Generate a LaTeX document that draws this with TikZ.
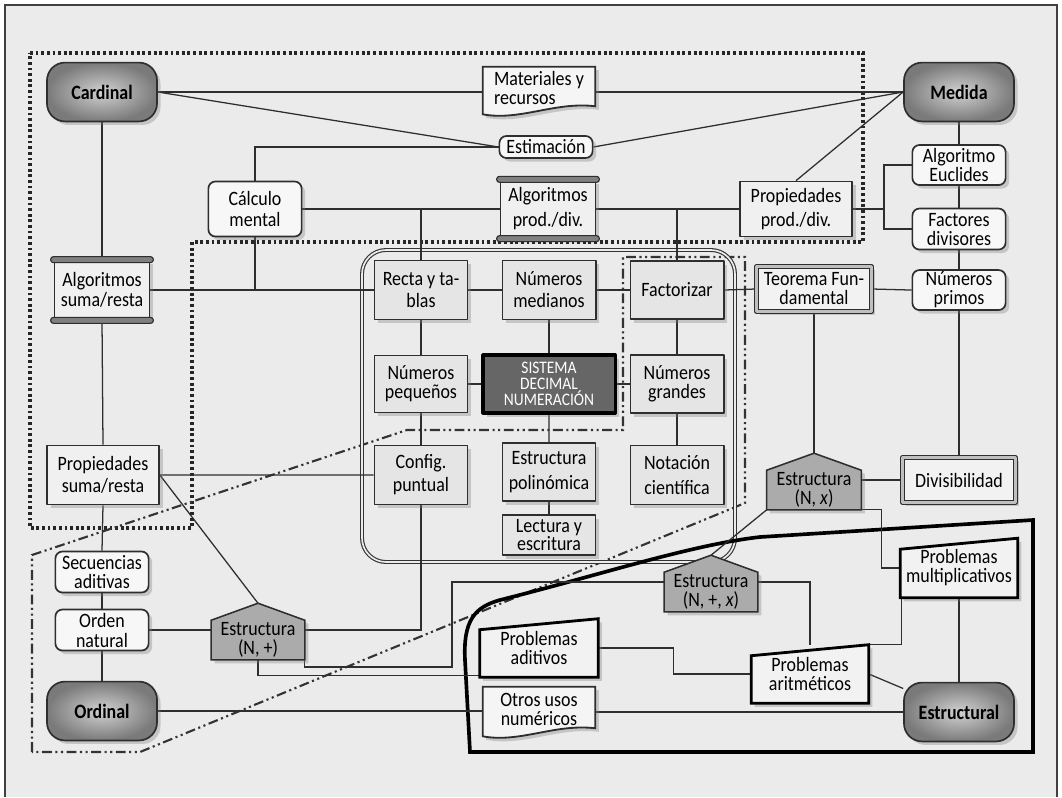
\documentclass[tikz,border=0pt]{standalone}
\usepackage{fontspec}
\setmainfont{Carlito}[FakeStretch=0.88]
\usetikzlibrary{calc,positioning,shadows}
\pgfdeclarelayer{paperlayer}
\pgfdeclarelayer{linklayer}
\pgfdeclarelayer{shapelayer}
\pgfsetlayers{paperlayer,linklayer,shapelayer,main}
\definecolor{paper}{HTML}{EBEBEB}
\definecolor{ink}{HTML}{2E2E2E}
\newcommand{\nodefont}[1]{\fontsize{14.5}{#1}\selectfont\lineskiplimit=-20pt}

\begin{document}
\begin{tikzpicture}[x=0.025cm, y=-0.025cm, line join=round,
  link/.style={draw=ink, line width=0.9pt},
  shadowed/.style={drop shadow={shadow xshift=2.5pt, shadow yshift=-2.5pt, opacity=0.35}}]
% Define styles for boxes, group frames and shapes
\tikzstyle{boxbase} = [inner sep=0pt, align=center, font=\nodefont{15.6}]
\tikzstyle{pill} = [boxbase, draw=ink, line width=1.2pt, rounded corners=0.45cm, inner color=black!18, outer color=black!52, minimum width=2.75cm, minimum height=1.47cm, font=\nodefont{16}\bfseries, shadowed]
\tikzstyle{rbox} = [boxbase, draw=ink, line width=1.2pt, fill=black!3, rounded corners=5pt, minimum width=2.33cm, shadowed]
\tikzstyle{plainbox} = [boxbase, draw=ink, line width=1.2pt, fill=black!6, shadowed]
\tikzstyle{gridbox} = [plainbox, fill=black!10, minimum width=2.33cm, minimum height=1.475cm]
\tikzstyle{dbox} = [boxbase, draw=ink, line width=0.9pt, double=black!25, double distance=1.6pt, fill=black!5, shadowed]
\tikzstyle{scroll} = [plainbox, minimum width=2.375cm]
\tikzstyle{corebox} = [boxbase, draw=black, line width=2.2pt, fill=black!60, text=white, font=\fontsize{12.5}{11.5}\selectfont, minimum width=3.3cm, minimum height=1.45cm, shadowed]
\tikzstyle{housebox} = [boxbase, minimum width=2.35cm, minimum height=0.975cm]
\tikzstyle{manualbox} = [boxbase, minimum width=2.925cm, minimum height=1.45cm]
\tikzstyle{docbox} = [boxbase]
\tikzstyle{housefill} = [draw=ink, line width=1.1pt, fill=black!33, shadowed]
\tikzstyle{docfill} = [draw=ink, line width=1.3pt, fill=black!4, shadowed]
\tikzstyle{manualfill} = [draw=black, line width=2pt, fill=black!5, shadowed]
\tikzstyle{scrollbar} = [draw=ink, line width=0.8pt, fill=black!50, rounded corners=2pt]
\tikzstyle{dotframe} = [draw=black!85, line width=2.2pt, dash pattern=on 2pt off 2pt]
\tikzstyle{dashframe} = [draw=black!80, line width=1.5pt, dash pattern=on 7pt off 2.5pt on 1.5pt off 2.5pt on 1.5pt off 2.5pt]
\tikzstyle{groupframe} = [draw=black!80, line width=0.8pt, double=paper, double distance=1.2pt, rounded corners=0.6cm]
\tikzstyle{boldframe} = [draw=black, line width=2.6pt]

\useasboundingbox (0,0) rectangle (1062,797);

% Paper, frame and groups
\begin{pgfonlayer}{paperlayer}
\fill[white] (0,0) rectangle (1062,797);
\fill[paper] (5,5) rectangle (1057,797);
\draw[black!75, line width=1pt] (5,797) -- (5,5) -- (1057,5) -- (1057,797);
\draw[dotframe] (30,53) -- (863,53) -- (863,242) -- (192,242) -- (192,528) -- (30,528) -- cycle;
\draw[dashframe] (32,752) -- (32,555) -- (407,430) -- (623,430) -- (623,257) -- (745,257) -- (745,503) -- (140,752) -- cycle;
\draw[groupframe] (362,250) rectangle (735,562);
\draw[boldframe] (1033,520) -- (1033,752) -- (470,752) -- (465,660) .. controls (463,620) and (475,607) .. (500,600) .. controls (600,575) and (690,545) .. (760,537) -- cycle;
\end{pgfonlayer}

% Nodes placement
\node[pill] (cardinal) at (102,92) {Cardinal};
\node[pill] (medida) at (959,92) {Medida};
\node[pill] (ordinal) at (102,711) {Ordinal};
\node[pill] (estructural) at (959,712) {Estructural};

\node[docbox, minimum width=2.8cm, minimum height=1.05cm, align=left, font=\nodefont{13.5}] (materiales) at (539,88) {Materiales y\\recursos};
\node[rbox, minimum height=0.55cm] (estimacion) at (546,147) {Estimación};
\node[scroll, minimum height=1.44cm, font=\nodefont{17.8}] (algprod) at (548,209) {Algoritmos\\prod./div.};
\node[rbox, minimum height=1.375cm, font=\nodefont{15}] (calculo) at (255,209) {Cálculo\\mental};
\node[plainbox, minimum width=2.8cm, minimum height=1.375cm, font=\nodefont{17}] (propprod) at (796,209) {Propiedades\\prod./div.};

\node[rbox, below of=medida, node distance=1.825cm, minimum height=1cm, font=\nodefont{13.5}] (euclides) {Algoritmo\\Euclides};
\node[rbox, below of=euclides, node distance=1.6cm, minimum height=1.025cm, font=\nodefont{13.5}] (factores) {Factores\\divisores};
\node[rbox, below of=factores, node distance=1.525cm, minimum height=1cm, font=\nodefont{13.5}] (primos) {Números\\primos};
\node[dbox, minimum width=2.875cm, minimum height=1.125cm, font=\nodefont{13.5}] (teorema) at (814,289) {Teorema Fun-\\damental};
\node[dbox, minimum width=2.825cm, minimum height=1.125cm] (divis) at (959,480) {Divisibilidad};
\node[housebox, font=\nodefont{13.5}] (estrx) at (814,490) {Estructura\\(N, \textit{x})};

\node[scroll, minimum height=1.475cm, font=\nodefont{14.2}] (algsuma) at (102,290) {Algoritmos\\suma/resta};
\node[plainbox, minimum width=2.8cm, minimum height=1.475cm] (propsuma) at (103,475) {Propiedades\\suma/resta};
\node[rbox, minimum height=1.025cm, font=\nodefont{13.5}] (secuencias) at (102,572) {Secuencias\\aditivas};
\node[rbox, below of=secuencias, node distance=1.45cm, minimum height=1.025cm, font=\nodefont{14.2}] (orden) {Orden\\natural};
\node[housebox, minimum width=2.325cm, font=\nodefont{13.5}] (estrmas) at (258,640) {Estructura\\(N, +)};

% Central block
\node[gridbox] (recta) at (421,290) {Recta y ta-\\blas};
\node[gridbox, right of=recta, node distance=3.2cm] (medianos) {Números\\medianos};
\node[gridbox, right of=medianos, node distance=3.2cm, minimum height=1.45cm] (factorizar) {Factorizar};
\node[gridbox, below of=recta, node distance=2.35cm, minimum height=1.425cm, font=\nodefont{13.5}] (pequenos) {Números\\pequeños};
\node[corebox, right of=pequenos, node distance=3.2cm] (sistema) {SISTEMA\\DECIMAL\\NUMERACIÓN};
\node[gridbox, right of=sistema, node distance=3.2cm, minimum height=1.45cm, font=\nodefont{13.5}] (grandes) {Números\\grandes};
\node[gridbox, below of=pequenos, node distance=2.275cm, font=\nodefont{16.4}] (config) {Config.\\puntual};
\node[gridbox, minimum height=1.45cm, font=\nodefont{17.8}] (polinomica) at (549,472) {Estructura\\polinómica};
\node[gridbox, below of=grandes, node distance=2.275cm, font=\nodefont{17.8}] (notacion) {Notación\\científica};
\node[gridbox, below of=polinomica, node distance=1.575cm, minimum height=1cm, font=\nodefont{13.5}] (lectura) {Lectura y\\escritura};

% Problems
\node[housebox, minimum width=2.325cm, font=\nodefont{13.5}] (estrmasx) at (711,592) {Estructura\\(N, +, \textit{x})};
\node[manualbox, minimum width=2.95cm, font=\nodefont{13.5}] (aditivos) at (539,648) {Problemas\\aditivos};
\node[docbox, minimum width=2.8cm, minimum height=1.1cm, font=\nodefont{13.5}] (otros) at (539,709) {Otros usos\\numéricos};
\node[manualbox, minimum height=1.475cm, font=\nodefont{13.5}] (multiplic) at (959,568) {Problemas\\multiplicativos};
\node[manualbox, font=\nodefont{13.5}] (aritmeticos) at (810,674) {Problemas\\aritméticos};

% Shapes behind the texts
\begin{pgfonlayer}{shapelayer}
\foreach \n in {estrmas,estrx,estrmasx} {
  \coordinate (\n-top) at ($(\n.north)+(0,-17)$);
  \filldraw[housefill] (\n.south west) -- (\n.north west) -- (\n-top) -- (\n.north east) -- (\n.south east) -- cycle;
}
\foreach \n in {materiales,otros} {
  \filldraw[docfill] (\n.north west) -- (\n.north east) -- ($(\n.south east)+(0,-3)$) .. controls ($(\n.south east)+(-40,-8)$) and ($(\n.south west)+(37,12)$) .. ($(\n.south west)+(0,5)$) -- cycle;
}
\foreach \n in {aditivos,multiplic,aritmeticos} {
  \filldraw[manualfill] (\n.south west) -- ($(\n.north west)+(0,11)$) -- (\n.north east) -- (\n.south east) -- cycle;
}
\end{pgfonlayer}

% Bars of the scrolls
\foreach \n in {algsuma,algprod} {
  \filldraw[scrollbar] ($(\n.north west)+(-3,-3)$) rectangle ($(\n.north east)+(3,3)$);
  \filldraw[scrollbar] ($(\n.south west)+(-3,-3)$) rectangle ($(\n.south east)+(3,3)$);
}

% Draw edges
\begin{pgfonlayer}{linklayer}
\draw[link] (cardinal.east) -- (cardinal.east -| materiales.west);
\draw[link] (materiales.east |- medida.west) -- (medida.west);
\draw[link] (cardinal.east) -- (estimacion.west);
\draw[link] (estimacion.east) -- (medida.west);
\draw[link] (calculo.north) |- (estimacion.west);
\draw[link] (propprod.north) -- (medida.west);
\draw[link] (calculo.east) -- (algprod.west);
\draw[link] (algprod.east) -- (propprod.west);
\draw[link] (recta.north) -- (recta.north |- algprod.west);
\draw[link] (factorizar.north) -- (factorizar.north |- algprod.east);
\draw[link] (propprod.east) -- ++(31,0) coordinate (fork);
\draw[link] (euclides.west) -| (fork) |- (factores.west);

% right column
\draw[link] (medida.south) -- (euclides.north);
\draw[link] (euclides.south) -- (factores.north);
\draw[link] (factores.south) -- (primos.north);
\draw[link] (primos.south) -- (divis.north);
\draw[link] (teorema.east) -- (primos.west);
\draw[link] (teorema.south) -- (estrx-top);
\draw[link] (divis.west) -- (divis.west -| estrx.east);
\draw[link] (estrx.south west) -- (estrmasx-top);
\draw[link] (estrx.south east) -- ++(20,0) |- (multiplic.west);
\draw[link] (multiplic.south) -- (estructural.north);
\draw[link] ([xshift=1pt]multiplic.south west) |- (aritmeticos.north east);
\draw[link] (aritmeticos.east) -- (estructural);

% left column
\draw[link] (cardinal.south) -- (algsuma.north);
\draw[link] (algsuma.south) -- (propsuma.north);
\draw[link] (propsuma.south) -- (secuencias.north);
\draw[link] (secuencias.south) -- (orden.north);
\draw[link] (orden.south) -- (ordinal.north);
\draw[link] (algsuma.east) -- (recta.west);
\draw[link] (calculo.south) -- (calculo.south |- algsuma.east);
\draw[link] (propsuma.east) -- (config.west);
\draw[link] (propsuma.east) -- (estrmas-top);
\draw[link] (orden.east) -- (orden.east -| estrmas.west);
\draw[link] (config.south) |- (orden.east -| estrmas.east);

% central block
\draw[link] (recta.east) -- (medianos.west);
\draw[link] (medianos.east) -- (factorizar.west);
\draw[link] (factorizar.east) -- (teorema.west);
\draw[link] (recta.south) -- (pequenos.north);
\draw[link] (pequenos.south) -- (config.north);
\draw[link] (pequenos.east) -- (sistema.west);
\draw[link] (sistema.east) -- (grandes.west);
\draw[link] (medianos.south) -- (sistema.north);
\draw[link] (sistema.south) -- (polinomica.north);
\draw[link] (polinomica.south) -- (lectura.north);
\draw[link] (factorizar.south) -- (grandes.north);
\draw[link] (grandes.south) -- (notacion.north);

% bottom
\coordinate (elbow) at (452,667);
\draw[link] (estrmas.south east) |- (elbow) |- ([yshift=0.25cm]estrmasx.west);
\draw[link] ([yshift=0.25cm]estrmasx.east) -| (aritmeticos.north);
\draw[link] (estrmas.south) |- ([yshift=1.5pt]aditivos.south west);
\draw[link] (aditivos.east) -- ++(75,0) |- (aritmeticos.west);
\draw[link] (ordinal.east) -- (ordinal.east -| otros.west);
\draw[link] (otros.east |- estructural.west) -- (estructural.west);
\end{pgfonlayer}
\end{tikzpicture}
\end{document}
